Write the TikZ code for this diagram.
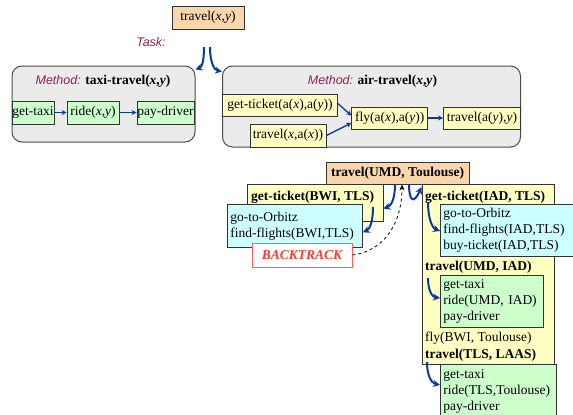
\documentclass[tikz,border=0pt]{standalone}
\usepackage{fontspec}
\setmainfont{Liberation Serif}
\setsansfont{Liberation Sans}
\usetikzlibrary{arrows.meta}

\definecolor{taskorange}{HTML}{FAD6AC}
\definecolor{stepyellow}{HTML}{FFFFC2}
\definecolor{stepgreen}{HTML}{CCFFCC}
\definecolor{stepcyan}{HTML}{CCFFFF}
\definecolor{methodgray}{HTML}{EBEBEB}
\definecolor{flowblue}{HTML}{0A3A9E}
\definecolor{labelplum}{HTML}{8E1F5E}
\definecolor{alertred}{HTML}{FF3A2A}

\newcommand{\boxfont}{\fontsize{13.5}{16}\selectfont}
\newcommand{\labfont}{\fontsize{12.5}{15}\selectfont\sffamily\itshape\color{labelplum}}

\begin{document}
\begin{tikzpicture}[x=1pt, y=-1pt, font=\boxfont,
  box/.style={draw=black!80, line width=0.8pt, inner sep=0pt, minimum height=22pt},
  taskbox/.style={box, fill=taskorange},
  ybox/.style={box, fill=stepyellow},
  gbox/.style={box, fill=stepgreen},
  cbox/.style={box, fill=stepcyan},
  listbox/.style={draw=black!80, line width=0.8pt, inner xsep=3pt, inner ysep=0pt, align=left},
  methodbox/.style={draw=black!70, line width=1pt, fill=methodgray, rounded corners=10pt, inner sep=0pt},
  txt/.style={inner sep=0pt, anchor=west},
  flow/.style={draw=flowblue, line width=2pt, -{Stealth[length=7pt, width=7pt]}},
  seq/.style={draw=flowblue, line width=1.3pt, -{Stealth[length=5pt, width=5pt]}},
  back/.style={draw=black, line width=0.8pt, dashed, -{Stealth[length=6pt, width=5pt]}}]

\useasboundingbox (0,0) rectangle (573,415);

% ---------- task and its two methods ----------
\node[taskbox, minimum width=72pt, minimum height=23pt] (task) at (208,17.5) {travel(\textit{x},\textit{y})};
\node[inner sep=0pt, font=\labfont] (tasklbl) at (151,42) {Task:};
\coordinate (splitL) at (204,47);
\coordinate (splitR) at (210,47);

\node[methodbox, minimum width=183pt, minimum height=76pt] (taxi) at (103.5,104) {};
\node[methodbox, minimum width=298pt, minimum height=81pt] (air) at (371.5,106.5) {};

\draw[flow] (splitL) .. controls (204,61) and (202,67) .. ([xshift=0pt,yshift=-4pt]taxi.north east);
\draw[flow] (splitR) .. controls (210,62) and (214,70) .. ([xshift=0pt,yshift=-6pt]air.north west);

\node[inner sep=0pt] (taxititle) at (103,81) {{\labfont Method:} \textbf{taxi-travel(\textit{x},\textit{y})}};
\node[inner sep=0pt] (airtitle) at (372.5,81) {{\labfont Method:} \textbf{air-travel(\textit{x},\textit{y})}};

% taxi-travel subtasks
\node[gbox, minimum width=42pt, minimum height=23pt] (gtaxi) at (33,112.5) {get-taxi};
\node[gbox, minimum width=52pt, minimum height=23pt] (ride) at (93,112.5) {ride(\textit{x},\textit{y})};
\node[gbox, minimum width=57pt, minimum height=23pt] (pay) at (165.5,112.5) {pay-driver};
\draw[seq] (gtaxi) -- (ride);
\draw[seq] (ride) -- (pay);

% air-travel subtasks
\node[ybox, minimum width=115pt] (gtick) at (280,105) {get-ticket(a(\textit{x}),a(\textit{y}))};
\node[ybox, minimum width=76pt, minimum height=23pt] (tlocal) at (288,135.5) {travel(\textit{x},a(\textit{x}))};
\node[ybox, minimum width=76pt] (fly) at (389.7,118) {fly(a(\textit{x}),a(\textit{y}))};
\node[ybox, minimum width=77pt] (tfinal) at (482,118) {travel(a(\textit{y}),\textit{y})};
\draw[seq] ([yshift=1.5pt]gtick.east) -- ([yshift=2.5pt]fly.west);
\draw[seq] (tlocal.east) -- ([yshift=-5pt]fly.west);
\draw[seq] (fly) -- (tfinal);

% ---------- a run of the planner ----------
% failed branch through BWI
\node[ybox, minimum width=136pt, minimum height=37pt] (gbwi) at (315,202.5) {};
\node[txt] (gbwit) at (251,197) {\textbf{get-ticket(BWI, TLS)}};
\node[cbox, listbox, text width=129pt, minimum height=43pt, anchor=north west] (obwi) at (227,204) {go-to-Orbitz\\find-flights(BWI,TLS)};

% successful branch through IAD
\node[ybox, minimum width=132pt, minimum height=179.5pt, anchor=north west] (giad) at (421.5,184) {};
\node[txt] (giadt) at (425,197) {\textbf{get-ticket(IAD, TLS)}};
\node[cbox, listbox, text width=126.5pt, minimum height=51.5pt, anchor=north west] (oiad) at (440,204) {go-to-Orbitz\\find-flights(IAD,TLS)\\buy-ticket(IAD,TLS)};
\node[txt] (tumd) at (425,267) {\textbf{travel(UMD, IAD)}};
\node[gbox, listbox, text width=97pt, minimum height=52pt, anchor=north west] (rumd) at (440,275) {get-taxi\\ride(UMD, IAD)\\pay-driver};
\node[txt] (flyt) at (425,338.5) {fly(BWI, Toulouse)};
\node[txt] (ttls) at (425,355) {\textbf{travel(TLS, LAAS)}};
\node[gbox, listbox, text width=110pt, minimum height=55pt, anchor=north west] (rtls) at (440,364) {get-taxi\\ride(TLS,Toulouse)\\pay-driver};

% root task of the run
\node[taskbox, minimum width=143pt] (root) at (397.5,173) {\textbf{travel(UMD, Toulouse)}};

% decompositions
\draw[flow] ([xshift=-2.5pt]root.south) .. controls (395,199) and (391,206) .. ([yshift=-6pt]gbwi.east);
\draw[flow] (373,207) .. controls (373,221) and (370,229) .. ([yshift=-6.5pt]obwi.east);
\draw[flow] ([xshift=11.5pt]root.south) .. controls (409,199) and (413,206) .. ([yshift=-3pt]giad.north west);
\draw[flow] (428,202) .. controls (428,218) and (432,228) .. ([yshift=-27pt]oiad.north west);
\draw[flow] (428,278) .. controls (428,290) and (432,297) .. ([yshift=-23pt]rumd.north west);
\draw[flow] (427,362) .. controls (427,375) and (431,383) .. ([yshift=-21pt]rtls.north west);

% backtracking
\node[draw=alertred!80, fill=white, line width=1pt, minimum width=100pt, minimum height=24pt, inner sep=0pt,
      text=alertred, font=\boxfont\bfseries\itshape] (bt) at (302,255) {BACKTRACK};
\draw[back] (bt.east) .. controls (385,251) and (402,222) .. ([xshift=4.5pt]root.south);
\end{tikzpicture}
\end{document}
